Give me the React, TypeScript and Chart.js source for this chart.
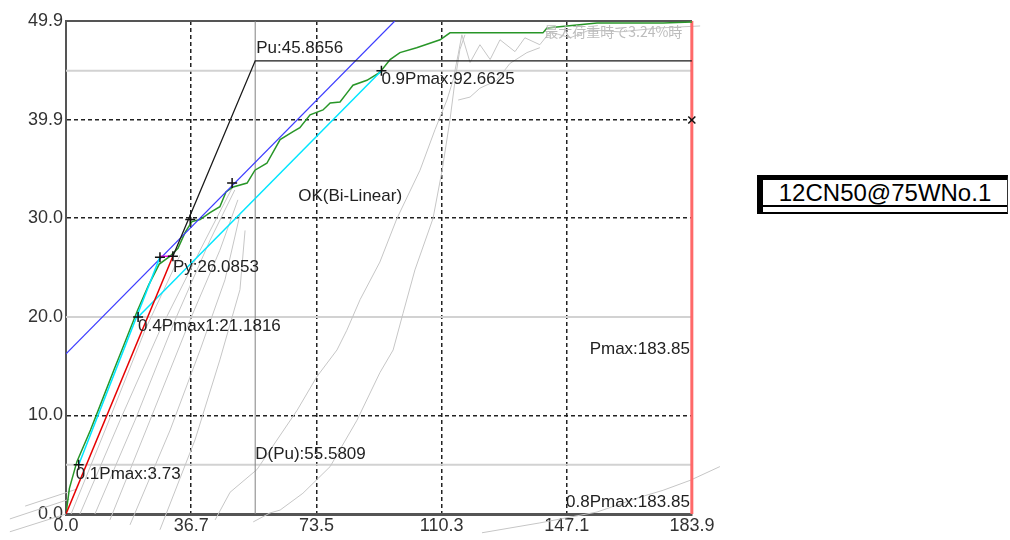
import React, { useEffect, useRef } from "react";
import { Chart, registerables } from "chart.js";
Chart.register(...registerables);

// ---- axis ticks ----
const xTickValues = [0, 36.78, 73.56, 110.34, 147.12, 183.9];
const xTickLabels = ["0.0", "36.7", "73.5", "110.3", "147.1", "183.9"];
const yTickValues = [0, 9.98, 19.96, 29.94, 39.92, 49.9];
const yTickLabels = ["0.0", "10.0", "20.0", "30.0", "39.9", "49.9"];

// ---- evaluation values ----
const Pmax = 49.85;
const Pu = 45.8656;
const Py = 26.0853;
const dPu = 55.5809;
const dPy = 31.4;
const dMax = 183.85;
const d01 = 3.73;
const d04 = 21.1816;
const d09 = 92.6625;
const dCross = 27.6;
const pCross = 26.0;
const tangentX = [0, 96.6];
const tangentY = [16.2, 49.9];
const markerPlusX = [d01, d04, dCross, dPy, 36.5, 48.8, d09];
const markerPlusY = [0.1 * Pmax, 0.4 * Pmax, pCross, Py, 29.8, 33.5, 0.9 * Pmax];

// ---- envelope (green) ----
const envX = [0, 1.0, 3.2, 7.2, 10.6, 14.1, 17.0, 21.0, 24.3, 27.4, 30.6, 32.9, 35.0, 37.0, 39.4, 42.3, 45.2, 47.0, 49.1, 53.2, 55.5, 59.0, 62.9, 66.7, 68.7, 71.7, 75.5, 77.6, 80.5, 82.5, 84.3, 88.4, 92.2, 95.2, 98.1, 103.0, 109.9, 112.8, 140.1, 141.3, 156.0, 175.4, 183.9];
const envY = [0, 2.6, 5.3, 8.5, 11.5, 14.6, 17.1, 20.6, 23.2, 25.3, 26.1, 26.9, 28.5, 29.6, 29.8, 30.5, 31.1, 32.6, 33.1, 33.5, 34.8, 35.5, 37.9, 38.7, 39.1, 40.4, 40.9, 41.6, 41.7, 42.6, 43.4, 43.9, 44.7, 46.0, 46.7, 47.2, 48.0, 48.7, 48.7, 49.2, 49.7, 49.7, 49.8];

// ---- hysteresis loops (gray) ----
const loop1: [number, number][] = [[1.5, 0], [11.5, 8.5], [23.2, 18.6], [33.5, 26.2]];
const loop2: [number, number][] = [[4.1, 0], [15.9, 9.5], [27.6, 18.6], [39.4, 26.7], [48.8, 33.0]];
const loop3: [number, number][] = [[8.5, 0], [20.3, 9.5], [32.0, 19.6], [42.3, 27.7], [49.6, 32.8]];
const loop4: [number, number][] = [[12.9, -0.6], [24.7, 9.5], [36.4, 19.6], [45.2, 26.7], [50.5, 31.8]];
const loop5: [number, number][] = [[18.8, -1.1], [30.6, 8.5], [39.4, 16.6], [46.7, 23.7], [51.1, 30.3]];
const loop6: [number, number][] = [[27.6, -1.6], [37.9, 7.5], [45.2, 15.6], [51.1, 22.7], [52.6, 28.7]];
const fan1: [number, number][] = [[0, 0], [-16.5, -1.8]];
const fan2: [number, number][] = [[1.0, 1.5], [-16.5, -0.5]];
const fan3: [number, number][] = [[3.0, 2.5], [-12.0, 0.8]];
const curveA: [number, number][] = [[43.8, -0.6], [48.2, 2.2], [56.1, 4.5], [67.9, 10.5], [73.7, 13.9], [79.6, 16.6], [82.5, 18.6], [86.4, 21.7], [92.2, 25.5], [97.2, 29.9], [104.0, 34.8], [108.4, 38.9], [111.9, 41.9], [113.7, 43.9], [115.2, 46.5], [116.3, 48.5]];
const curveB: [number, number][] = [[55.0, -0.8], [59.9, 0.1], [62.9, 0.4], [69.6, 2.1], [77.6, 4.8], [85.5, 9.5], [92.2, 14.3], [96.1, 16.6], [99.0, 20.3], [102.5, 24.7], [107.8, 29.9], [110.5, 34.8], [112.8, 39.9], [114.3, 43.9], [115.7, 47.0], [117.2, 48.5]];
const topJag1: [number, number][] = [[116.3, 48.5], [118.7, 45.7], [121.6, 47.5], [124.6, 46.0], [127.5, 48.0], [131.9, 46.8], [134.8, 48.2], [139.2, 47.5], [142.2, 48.8], [148.1, 48.2], [153.9, 49.0], [162.7, 48.8], [174.5, 49.2], [186.3, 49.4], [192.1, 49.0]];
const topJag2: [number, number][] = [[115.2, 41.9], [118.7, 42.2], [121.6, 43.1], [126.6, 43.9], [130.4, 45.6], [135.4, 46.7], [139.2, 47.2]];
const curveC: [number, number][] = [[122.2, -1.9], [139.2, -0.9], [156.0, 0.2], [168.6, 1.7], [175.4, 2.4], [183.3, 3.4], [192.1, 4.8]];
const grayLoops = [loop1, loop2, loop3, loop4, loop5, loop6, fan1, fan2, fan3, curveA, curveB, topJag1, topJag2, curveC];

const boxLabel = "12CN50@75WNo.1";
const noteText = "最大荷重時で3.24%時";

const pts = (xs: number[], ys: number[]) => xs.map((x, i) => ({ x, y: ys[i] }));
const pairs = (p: [number, number][]) => p.map(([x, y]) => ({ x, y }));

const FONT = '"Liberation Sans", Arial, sans-serif';

const annotPlugin = {
  id: "annot",
  afterDatasetsDraw(chart: any) {
    const { ctx, scales, chartArea } = chart;
    const x = scales.x, y = scales.y;
    ctx.save();
    ctx.font = `17px ${FONT}`;
    ctx.fillStyle = "#222";
    ctx.textBaseline = "middle";
    const put = (t: string, px: number, py: number, align: CanvasTextAlign = "left") => {
      ctx.textAlign = align;
      ctx.fillText(t, px, py);
    };
    put(`Pu:${Pu}`, x.getPixelForValue(dPu) + 1, y.getPixelForValue(Pu) - 13);
    put(`0.9Pmax:${d09}`, x.getPixelForValue(d09), y.getPixelForValue(0.9 * Pmax) + 9);
    put(`Py:${Py}`, x.getPixelForValue(dPy), y.getPixelForValue(Py) + 11);
    put(`0.4Pmax1:${d04}`, x.getPixelForValue(d04), y.getPixelForValue(0.4 * Pmax) + 9);
    put(`0.1Pmax:${d01}`, x.getPixelForValue(d01) - 3, y.getPixelForValue(0.1 * Pmax) + 10);
    put(`D(Pu):${dPu}`, x.getPixelForValue(dPu), y.getPixelForValue(0.1 * Pmax) - 10);
    put(`Pmax:${dMax}`, x.getPixelForValue(dMax) - 2, y.getPixelForValue(y.max / 3), "right");
    put(`0.8Pmax:${dMax}`, x.getPixelForValue(dMax) - 2, chartArea.bottom - 12, "right");
    put("OK(Bi-Linear)", x.getPixelForValue(68.2), y.getPixelForValue(32.2));
    ctx.font = `14px "Noto Sans CJK JP", sans-serif`;
    ctx.fillStyle = "#bdbdbd";
    put(noteText, x.getPixelForValue(140.5), y.getPixelForValue(48.8));
    ctx.restore();
  },
};

const lineDs = (label: string, data: any[], color: string, width: number, extra: any = {}) => ({
  label,
  data,
  showLine: true,
  borderColor: color,
  backgroundColor: color,
  borderWidth: width,
  pointRadius: 0,
  pointHoverRadius: 0,
  tension: 0,
  fill: false,
  ...extra,
});

export default function App() {
  const ref = useRef<HTMLCanvasElement | null>(null);
  useEffect(() => {
    if (!ref.current) return;
    const datasets: any[] = [
      {
        label: "plus",
        data: pts(markerPlusX, markerPlusY),
        showLine: false,
        pointStyle: "cross",
        pointRadius: 5,
        pointBorderWidth: 1.5,
        borderColor: "#111",
        backgroundColor: "#111",
      },
      {
        label: "x08",
        data: [{ x: dMax, y: 0.8 * Pmax }],
        showLine: false,
        pointStyle: "crossRot",
        pointRadius: 5,
        pointBorderWidth: 1.5,
        borderColor: "#111",
        backgroundColor: "#111",
        clip: false,
      },
      lineDs("magenta", [{ x: dCross, y: Py }, { x: dPy, y: Py }], "rgb(230,0,230)", 1.5),
      lineDs("red", [{ x: 0, y: 0 }, { x: dPy, y: Py }], "rgb(230,0,0)", 1.5),
      lineDs("bilinear", [{ x: dPy, y: Py }, { x: dPu, y: Pu }, { x: dMax, y: Pu }], "#1a1a1a", 1.3),
      lineDs("cyan1", [{ x: d04, y: 0.4 * Pmax }, { x: d09, y: 0.9 * Pmax }], "rgb(0,230,255)", 1.5),
      lineDs("cyan2", [{ x: d01, y: 0.1 * Pmax }, { x: dCross, y: pCross }], "rgb(0,230,255)", 1.5),
      lineDs("blue", pts(tangentX, tangentY), "rgb(60,60,255)", 1.2),
      lineDs("envelope", pts(envX, envY), "rgb(40,150,40)", 1.5),
      lineDs("pmaxLine", [{ x: dMax, y: 0 }, { x: dMax, y: 49.9 }], "rgb(255,105,105)", 3, { clip: false }),
      lineDs("dPuLine", [{ x: dPu, y: 0 }, { x: dPu, y: 49.9 }], "rgb(130,130,130)", 1),
      ...grayLoops.map((g, i) => lineDs("loop" + i, pairs(g), "rgb(198,198,198)", 1, { clip: false })),
      lineDs("p01", [{ x: 0, y: 0.1 * Pmax }, { x: dMax, y: 0.1 * Pmax }], "rgb(210,210,210)", 2),
      lineDs("p04", [{ x: 0, y: 0.4 * Pmax }, { x: dMax, y: 0.4 * Pmax }], "rgb(210,210,210)", 2),
      lineDs("p09", [{ x: 0, y: 0.9 * Pmax }, { x: dMax, y: 0.9 * Pmax }], "rgb(210,210,210)", 2),
    ];
    const chart = new Chart(ref.current, {
      type: "scatter",
      data: { datasets },
      plugins: [annotPlugin],
      options: {
        animation: false,
        responsive: false,
        events: [],
        layout: { padding: { left: 0, top: 21, right: 318, bottom: 0 } },
        plugins: { legend: { display: false }, tooltip: { enabled: false } },
        scales: {
          x: {
            type: "linear",
            min: 0,
            max: 183.9,
            afterBuildTicks: (s: any) => {
              s.ticks = xTickValues.map((v) => ({ value: v }));
            },
            afterFit: (s: any) => {
              s.height = 26;
            },
            ticks: {
              callback: (_v: any, i: number) => xTickLabels[i],
              font: { family: FONT, size: 18 },
              color: "#333",
              padding: 1,
              maxRotation: 0,
              autoSkip: false,
            },
            grid: {
              drawTicks: false,
              color: (c: any) => (c.index === 0 || c.index === 5 ? "rgba(0,0,0,0)" : "#222"),
              lineWidth: 1.5,
            },
            border: { display: true, color: "#555", width: 3, dash: [4, 3] },
          },
          y: {
            type: "linear",
            min: 0,
            max: 49.9,
            afterBuildTicks: (s: any) => {
              s.ticks = yTickValues.map((v) => ({ value: v }));
            },
            afterFit: (s: any) => {
              s.width = 66;
            },
            ticks: {
              callback: (_v: any, i: number) => yTickLabels[i],
              font: { family: FONT, size: 18 },
              color: "#333",
              padding: 3,
              autoSkip: false,
            },
            grid: {
              drawTicks: false,
              color: (c: any) =>
                c.index === 0 || c.index === 2 ? "rgba(0,0,0,0)" : c.index === 5 ? "#555" : "#222",
              lineWidth: (c: any) => (c.index === 5 ? 2 : 1.5),
            },
            border: {
              display: true,
              color: "#555",
              width: 2,
              dash: (c: any) => (c.index === 5 ? [] : [4, 3]),
            },
          },
        },
      } as any,
    });
    return () => chart.destroy();
  }, []);

  return (
    <div style={{ position: "fixed", left: 0, top: 0, width: 1010, height: 540, background: "#fff" }}>
      <canvas ref={ref} width={1010} height={540} style={{ position: "absolute", left: 0, top: 0 }} />
      <div
        style={{
          position: "absolute",
          left: 757,
          top: 175,
          width: 251,
          height: 39,
          boxSizing: "border-box",
          borderTop: "5px solid #000",
          borderLeft: "6px solid #000",
          borderRight: "1px solid #333",
          borderBottom: "2px solid #000",
          background: "#fff",
        }}
      >
        <div
          style={{
            height: 27,
            boxSizing: "border-box",
            borderBottom: "2px solid #000",
            textAlign: "center",
            font: `24px ${FONT}`,
            lineHeight: "25px",
            color: "#000",
          }}
        >
          {boxLabel}
        </div>
      </div>
    </div>
  );
}
